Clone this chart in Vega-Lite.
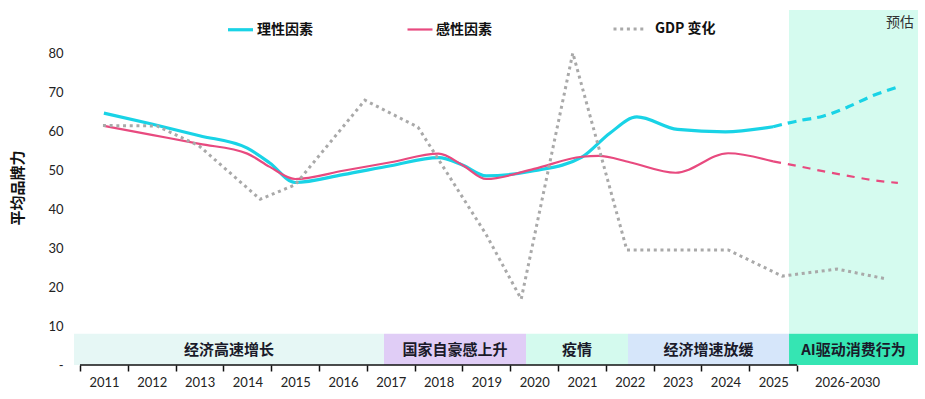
{
  "$schema": "https://vega.github.io/schema/vega-lite/v6.json",
  "width": 838,
  "height": 355,
  "autosize": "none",
  "padding": {"left": 80, "top": 10, "right": 7, "bottom": 34},
  "background": "white",
  "config": {"view": {"stroke": null}, "font": "Lato"},
  "datasets": {
    "periods": [
      {"period": "经济高速增长", "start": 2010.374, "end": 2016.86},
      {"period": "国家自豪感上升", "start": 2016.86, "end": 2019.831},
      {"period": "疫情", "start": 2019.831, "end": 2021.964},
      {"period": "经济增速放缓", "start": 2021.964, "end": 2025.333},
      {"period": "AI驱动消费行为", "start": 2025.333, "end": 2028.031}
    ],
    "lines": [
      {"series": "理性因素", "x": 2011, "v": 64.6},
      {"series": "理性因素", "x": 2012, "v": 61.8},
      {"series": "理性因素", "x": 2013, "v": 58.8},
      {"series": "理性因素", "x": 2014, "v": 55.6},
      {"series": "理性因素", "x": 2014.47, "v": 51.8},
      {"series": "理性因素", "x": 2015, "v": 46.8},
      {"series": "理性因素", "x": 2016, "v": 48.8},
      {"series": "理性因素", "x": 2017, "v": 51.1},
      {"series": "理性因素", "x": 2018, "v": 53.2},
      {"series": "理性因素", "x": 2018.5, "v": 51.3},
      {"series": "理性因素", "x": 2019, "v": 48.5},
      {"series": "理性因素", "x": 2020, "v": 49.8},
      {"series": "理性因素", "x": 2021, "v": 53.3},
      {"series": "理性因素", "x": 2021.59, "v": 59.5},
      {"series": "理性因素", "x": 2022.15, "v": 63.6},
      {"series": "理性因素", "x": 2023, "v": 60.4},
      {"series": "理性因素", "x": 2024, "v": 59.8},
      {"series": "理性因素", "x": 2025, "v": 61.1},
      {"series": "感性因素", "x": 2011, "v": 61.3},
      {"series": "感性因素", "x": 2012, "v": 59.0},
      {"series": "感性因素", "x": 2013, "v": 56.7},
      {"series": "感性因素", "x": 2014, "v": 54.2},
      {"series": "感性因素", "x": 2014.47, "v": 50.8},
      {"series": "感性因素", "x": 2015, "v": 47.7},
      {"series": "感性因素", "x": 2016, "v": 49.8},
      {"series": "感性因素", "x": 2017, "v": 52.0},
      {"series": "感性因素", "x": 2018, "v": 54.2},
      {"series": "感性因素", "x": 2018.5, "v": 51.3},
      {"series": "感性因素", "x": 2019, "v": 47.7},
      {"series": "感性因素", "x": 2020, "v": 50.3},
      {"series": "感性因素", "x": 2021, "v": 53.4},
      {"series": "感性因素", "x": 2021.35, "v": 53.6},
      {"series": "感性因素", "x": 2022, "v": 52.0},
      {"series": "感性因素", "x": 2022.96, "v": 49.3},
      {"series": "感性因素", "x": 2024.06, "v": 54.3},
      {"series": "感性因素", "x": 2025, "v": 52.2}
    ],
    "gdp": [
      {"series": "GDP 变化", "x": 2010.98, "v": 61.4},
      {"series": "GDP 变化", "x": 2012.11, "v": 61.3},
      {"series": "GDP 变化", "x": 2012.99, "v": 56.2},
      {"series": "GDP 变化", "x": 2014.27, "v": 42.5},
      {"series": "GDP 变化", "x": 2015.0, "v": 46.2},
      {"series": "GDP 变化", "x": 2016.46, "v": 67.9},
      {"series": "GDP 变化", "x": 2017.57, "v": 61.0},
      {"series": "GDP 变化", "x": 2018.99, "v": 33.6},
      {"series": "GDP 变化", "x": 2019.73, "v": 16.9},
      {"series": "GDP 变化", "x": 2020.81, "v": 80.0},
      {"series": "GDP 变化", "x": 2021.94, "v": 29.5},
      {"series": "GDP 变化", "x": 2024.06, "v": 29.5},
      {"series": "GDP 变化", "x": 2025.19, "v": 22.8},
      {"series": "GDP 变化", "x": 2026.34, "v": 24.6},
      {"series": "GDP 变化", "x": 2027.36, "v": 22.1}
    ],
    "forecast": [
      {"series": "理性因素", "x": 2025, "v": 61.1},
      {"series": "理性因素", "x": 2025.52, "v": 62.6},
      {"series": "理性因素", "x": 2026.04, "v": 63.8},
      {"series": "理性因素", "x": 2026.57, "v": 66.2},
      {"series": "理性因素", "x": 2027.09, "v": 69.1},
      {"series": "理性因素", "x": 2027.61, "v": 71.3},
      {"series": "感性因素", "x": 2025, "v": 52.2},
      {"series": "感性因素", "x": 2025.52, "v": 51.0},
      {"series": "感性因素", "x": 2026.04, "v": 49.7},
      {"series": "感性因素", "x": 2026.57, "v": 48.5},
      {"series": "感性因素", "x": 2027.09, "v": 47.4},
      {"series": "感性因素", "x": 2027.61, "v": 46.7}
    ]
  },
  "layer": [
    {
      "data": {"values": [{"from": 2025.333, "to": 2028.031}]},
      "mark": {"type": "rect", "color": "#d5fbef"},
      "encoding": {
        "x": {"field": "from", "type": "quantitative"},
        "x2": {"field": "to"},
        "y": {"datum": 8, "type": "quantitative"},
        "y2": {"datum": 91.03}
      }
    },
    {
      "data": {"name": "periods"},
      "mark": {"type": "rect", "clip": false},
      "encoding": {
        "x": {"field": "start", "type": "quantitative"},
        "x2": {"field": "end"},
        "y": {"datum": 0, "type": "quantitative"},
        "y2": {"datum": 8},
        "fill": {
          "field": "period",
          "type": "nominal",
          "legend": null,
          "scale": {
            "domain": ["经济高速增长", "国家自豪感上升", "疫情", "经济增速放缓", "AI驱动消费行为"],
            "range": ["#e6f7f5", "#e0cdf6", "#d4faee", "#d6e6fa", "#35e5b3"]
          }
        }
      }
    },
    {
      "data": {"name": "periods"},
      "transform": [{"calculate": "(datum.start + datum.end) / 2", "as": "mid"}],
      "mark": {"type": "text", "font": "Noto Sans CJK SC", "fontSize": 15, "fontWeight": "bold", "color": "#1a1a2a", "baseline": "middle", "align": "center", "clip": false},
      "encoding": {
        "x": {"field": "mid", "type": "quantitative"},
        "y": {"datum": 3.9, "type": "quantitative"},
        "text": {"field": "period"}
      }
    },
    {
      "data": {"name": "lines"},
      "mark": {"type": "line", "interpolate": "monotone"},
      "encoding": {
        "x": {
          "field": "x", "type": "quantitative",
          "scale": {"domain": [2010.5, 2028.031], "nice": false, "zero": false},
          "axis": {
            "title": null,
            "values": [2010.5, 2011.5, 2012.5, 2013.5, 2014.5, 2015.5, 2016.5, 2017.5, 2018.5, 2019.5, 2020.5, 2021.5, 2022.5, 2023.5, 2024.5, 2025.5],
            "labelExpr": "datum.value > 2025 ? '2026-2030' : '' + (datum.value + 0.5)",
            "domain": false, "grid": false,
            "ticks": true, "tickSize": 6, "tickColor": "#111", "tickWidth": 1.5,
            "labelPadding": 5, "labelFontSize": 13, "labelColor": "#222", "labelFont": "Lato",
            "labelFlush": false, "labelOverlap": false, "labelBound": false,
            "labelOffset": {"condition": {"test": "datum.value > 2025", "value": 50}, "value": 24}
          }
        },
        "y": {
          "field": "v", "type": "quantitative",
          "scale": {"domain": [0, 91.03], "nice": false},
          "axis": {
            "title": "平均品牌力",
            "values": [0, 10, 20, 30, 40, 50, 60, 70, 80],
            "labelExpr": "datum.value == 0 ? '-' : datum.label",
            "domain": false, "ticks": false, "grid": false,
            "labelPadding": 17, "labelFontSize": 13, "labelColor": "#222", "labelFont": "Lato",
            "titleFont": "Noto Sans CJK SC", "titleFontSize": 15, "titleFontWeight": "bold", "titleColor": "#111", "titlePadding": 22
          }
        },
        "color": {
          "field": "series", "type": "nominal",
          "scale": {"domain": ["理性因素", "感性因素"], "range": ["#19d3e6", "#e84a7f"]},
          "legend": {
            "title": null, "orient": "none", "legendX": 146, "legendY": 5, "direction": "horizontal",
            "symbolType": "stroke", "symbolSize": 625, "symbolStrokeWidth": 3,
            "labelFont": "Noto Sans CJK SC", "labelFontSize": 14, "labelFontWeight": "bold", "labelColor": "#111",
            "labelOffset": 2, "columnPadding": 90, "padding": 0
          }
        },
        "strokeWidth": {
          "field": "series", "type": "nominal", "legend": null,
          "scale": {"domain": ["理性因素", "感性因素"], "range": [3.2, 2.2]}
        }
      }
    },
    {
      "data": {"name": "gdp"},
      "mark": {"type": "line", "interpolate": "linear", "strokeWidth": 3},
      "encoding": {
        "x": {"field": "x", "type": "quantitative"},
        "y": {"field": "v", "type": "quantitative"},
        "stroke": {
          "field": "series", "type": "nominal",
          "scale": {"domain": ["GDP 变化"], "range": ["#a9a9a9"]},
          "legend": {
            "title": null, "orient": "none", "legendX": 532, "legendY": 1.5, "direction": "horizontal",
            "symbolType": "stroke", "symbolSize": 1024, "symbolStrokeWidth": 3,
            "labelFont": "Noto Sans CJK SC", "labelFontSize": 14, "labelFontWeight": "bold", "labelColor": "#111",
            "labelOffset": 8, "padding": 0
          }
        },
        "strokeDash": {
          "field": "series", "type": "nominal",
          "scale": {"domain": ["GDP 变化"], "range": [[3, 3.7]]},
          "legend": {
            "title": null, "orient": "none", "legendX": 532, "legendY": 1.5, "direction": "horizontal",
            "symbolType": "stroke", "symbolSize": 1024, "symbolStrokeWidth": 3,
            "labelFont": "Noto Sans CJK SC", "labelFontSize": 14, "labelFontWeight": "bold", "labelColor": "#111",
            "labelOffset": 8, "padding": 0
          }
        }
      }
    },
    {
      "data": {"name": "forecast"},
      "transform": [{"filter": "datum.series === '理性因素'"}],
      "mark": {"type": "line", "interpolate": "monotone", "color": "#19d3e6", "strokeWidth": 3.2, "strokeDash": [9, 6]},
      "encoding": {
        "x": {"field": "x", "type": "quantitative"},
        "y": {"field": "v", "type": "quantitative"}
      }
    },
    {
      "data": {"name": "forecast"},
      "transform": [{"filter": "datum.series === '感性因素'"}],
      "mark": {"type": "line", "interpolate": "monotone", "color": "#e84a7f", "strokeWidth": 2.2, "strokeDash": [8, 7]},
      "encoding": {
        "x": {"field": "x", "type": "quantitative"},
        "y": {"field": "v", "type": "quantitative"}
      }
    },
    {
      "data": {"values": [{"from": 2010.5, "to": 2025.5, "level": 0}]},
      "mark": {"type": "rule", "color": "#111", "strokeWidth": 1.5},
      "encoding": {
        "x": {"field": "from", "type": "quantitative"},
        "x2": {"field": "to"},
        "y": {"field": "level", "type": "quantitative"}
      }
    },
    {
      "data": {"values": [{"label": "预估", "at": 2027.655, "level": 87.7}]},
      "mark": {"type": "text", "font": "Noto Sans CJK SC", "fontSize": 14, "color": "#333", "align": "center", "baseline": "middle"},
      "encoding": {
        "x": {"field": "at", "type": "quantitative"},
        "y": {"field": "level", "type": "quantitative"},
        "text": {"field": "label"}
      }
    }
  ]
}
